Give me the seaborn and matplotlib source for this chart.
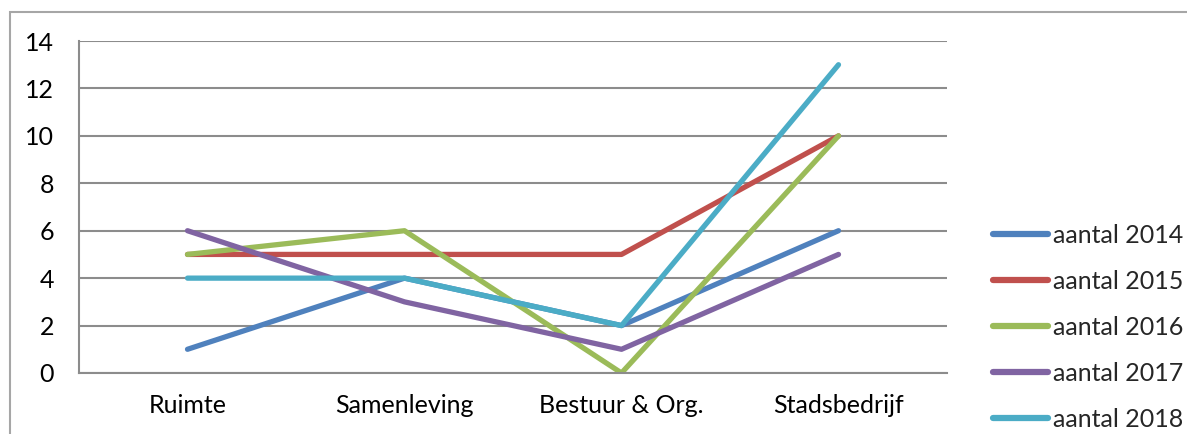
import matplotlib
matplotlib.use("Agg")
import matplotlib.pyplot as plt
import seaborn as sns
import pandas as pd
from matplotlib.patches import Rectangle

categories = ["Ruimte", "Samenleving", "Bestuur & Org.", "Stadsbedrijf"]
series_names = ["aantal 2014", "aantal 2015", "aantal 2016", "aantal 2017", "aantal 2018"]
aantal_2014 = [1, 4, 2, 6]
aantal_2015 = [5, 5, 5, 10]
aantal_2016 = [5, 6, 0, 10]
aantal_2017 = [6, 3, 1, 5]
aantal_2018 = [4, 4, 2, 13]
colors = ["#4F81BD", "#C0504D", "#9BBB59", "#8064A2", "#4BACC6"]
yticks = [0, 2, 4, 6, 8, 10, 12, 14]

values = [aantal_2014, aantal_2015, aantal_2016, aantal_2017, aantal_2018]
rows = []
for name, vals in zip(series_names, values):
    for i, (c, v) in enumerate(zip(categories, vals)):
        rows.append({"pos": i, "categorie": c, "reeks": name, "waarde": v})
df = pd.DataFrame(rows)

sns.set_style("white")
plt.rcParams["font.family"] = ["Lato", "DejaVu Sans"]

fig = plt.figure(figsize=(11.87, 4.34), dpi=100)
ax = fig.add_axes([79 / 1187, 1 - 373 / 434, (947 - 79) / 1187, (373 - 41) / 434])

sns.lineplot(data=df, x="pos", y="waarde", hue="reeks", palette=colors,
             hue_order=series_names, linewidth=3.8, ax=ax, legend=False,
             solid_capstyle="round", solid_joinstyle="round")

ax.set_xlim(-0.5, 3.5)
ax.set_ylim(0, 14)
ax.set_yticks(yticks)
ax.set_yticklabels([str(t) for t in yticks])
ax.set_xticks(range(len(categories)))
ax.set_xticklabels(categories)
ax.set_xlabel("")
ax.set_ylabel("")
ax.yaxis.grid(True, color="#8C8C8C", linewidth=1.5)
ax.set_axisbelow(True)
for s in ["top", "right"]:
    ax.spines[s].set_visible(False)
for s in ["left", "bottom"]:
    ax.spines[s].set_color("#8C8C8C")
    ax.spines[s].set_linewidth(1.5)
ax.tick_params(axis="y", length=0, pad=18, labelsize=18, labelcolor="#000000")
ax.tick_params(axis="x", length=0, pad=15, labelsize=18, labelcolor="#000000")

handles = [plt.Line2D([], [], color=c, linewidth=4.5, solid_capstyle="round") for c in colors]
fig.legend(handles, series_names, loc="upper left", bbox_to_anchor=(993 / 1187, 1 - 224 / 434),
           frameon=False, fontsize=18, handlelength=2.2, handletextpad=0.2,
           labelspacing=0.92, borderaxespad=0, borderpad=0)

fig.patches.append(Rectangle((10 / 1187, -0.1), 1.2, 1 - 12 / 434 + 0.1, transform=fig.transFigure,
                             fill=False, edgecolor="#A6A6A6", linewidth=1.5, figure=fig))

fig.savefig("out.png", dpi=100)
